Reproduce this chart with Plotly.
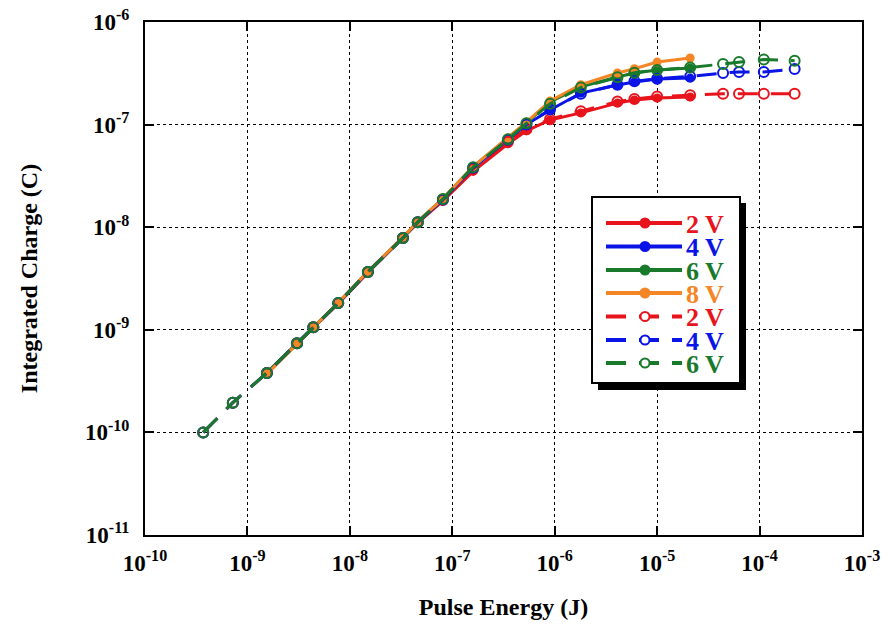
import plotly.graph_objects as go

# Pulse energy (J)
energy_solid = [1.55e-9, 3.05e-9, 4.4e-9, 7.7e-9, 1.5e-8, 3.3e-8, 4.6e-8, 8.1e-8,
                1.6e-7, 3.5e-7, 5.3e-7, 9.0e-7, 1.8e-6, 4.1e-6, 6.0e-6, 1.0e-5, 2.1e-5]
energy_dashed = [3.7e-10, 7.2e-10] + energy_solid + [4.4e-5, 6.3e-5, 1.1e-4, 2.2e-4]

# Integrated charge (C), solid series
q2_solid = [3.8e-10, 7.3e-10, 1.05e-9, 1.8e-9, 3.6e-9, 7.8e-9, 1.1e-8, 1.8e-8, 3.5e-8,
            6.5e-8, 8.7e-8, 1.11e-7, 1.3e-7, 1.62e-7, 1.74e-7, 1.82e-7, 1.86e-7]
q4_solid = [3.8e-10, 7.4e-10, 1.06e-9, 1.82e-9, 3.66e-9, 7.9e-9, 1.12e-8, 1.85e-8, 3.8e-8,
            7.1e-8, 1.0e-7, 1.39e-7, 2.03e-7, 2.43e-7, 2.6e-7, 2.78e-7, 2.84e-7]
q6_solid = [3.8e-10, 7.4e-10, 1.07e-9, 1.83e-9, 3.7e-9, 7.9e-9, 1.13e-8, 1.9e-8, 3.9e-8,
            7.3e-8, 1.04e-7, 1.66e-7, 2.33e-7, 2.91e-7, 3.18e-7, 3.4e-7, 3.56e-7]
q8_solid = [3.7e-10, 7.3e-10, 1.06e-9, 1.84e-9, 3.7e-9, 8.0e-9, 1.14e-8, 1.9e-8, 3.9e-8,
            7.4e-8, 1.06e-7, 1.7e-7, 2.45e-7, 3.18e-7, 3.5e-7, 4.07e-7, 4.46e-7]

# Integrated charge (C), dashed series
q2_dashed = [1.0e-10, 1.95e-10, 3.8e-10, 7.4e-10, 1.06e-9, 1.82e-9, 3.66e-9, 7.85e-9, 1.12e-8,
             1.84e-8, 3.7e-8, 6.8e-8, 9.0e-8, 1.13e-7, 1.35e-7, 1.68e-7, 1.78e-7, 1.88e-7,
             1.93e-7, 2.0e-7, 2.0e-7, 2.0e-7, 2.0e-7]
q4_dashed = [1.0e-10, 1.95e-10, 3.8e-10, 7.4e-10, 1.06e-9, 1.82e-9, 3.66e-9, 7.85e-9, 1.12e-8,
             1.86e-8, 3.8e-8, 7.1e-8, 1.0e-7, 1.4e-7, 2.0e-7, 2.45e-7, 2.65e-7, 2.8e-7,
             2.95e-7, 3.18e-7, 3.26e-7, 3.26e-7, 3.48e-7]
q6_dashed = [1.0e-10, 1.95e-10, 3.8e-10, 7.4e-10, 1.06e-9, 1.82e-9, 3.66e-9, 7.85e-9, 1.12e-8,
             1.88e-8, 3.85e-8, 7.2e-8, 1.03e-7, 1.6e-7, 2.3e-7, 2.9e-7, 3.2e-7, 3.4e-7,
             3.6e-7, 3.9e-7, 4.07e-7, 4.3e-7, 4.2e-7]

series_labels = ["2 V", "4 V", "6 V", "8 V", "2 V", "4 V", "6 V"]

x_tickvals = [1e-10, 1e-9, 1e-8, 1e-7, 1e-6, 1e-5, 1e-4, 1e-3]
x_ticktext = ["10<sup>-10</sup>", "10<sup>-9</sup>", "10<sup>-8</sup>", "10<sup>-7</sup>",
              "10<sup>-6</sup>", "10<sup>-5</sup>", "10<sup>-4</sup>", "10<sup>-3</sup>"]
y_tickvals = [1e-11, 1e-10, 1e-9, 1e-8, 1e-7, 1e-6]
y_ticktext = ["10<sup>-11</sup>", "10<sup>-10</sup>", "10<sup>-9</sup>", "10<sup>-8</sup>",
              "10<sup>-7</sup>", "10<sup>-6</sup>"]

RED = "#e8141c"
BLUE = "#0a14e6"
GREEN = "#187a2a"
ORANGE = "#f58626"

W, H = 884, 624
ML, MR, MT, MB = 145, 22, 22, 89
PW, PH = W - ML - MR, H - MT - MB


def px(xw):
    """window pixel x -> paper coordinate"""
    return (xw - ML) / PW


def py(yw):
    """window pixel y -> paper coordinate"""
    return (H - MB - yw) / PH


fig = go.Figure()

solid = [(q2_solid, RED), (q4_solid, BLUE), (q6_solid, GREEN), (q8_solid, ORANGE)]
dashed = [(q2_dashed, RED), (q4_dashed, BLUE), (q6_dashed, GREEN)]
DASH = "20px,13px"

for (q, c), name in zip(solid, series_labels[:4]):
    fig.add_trace(go.Scatter(
        x=energy_solid, y=q, mode="lines+markers", name=name, showlegend=False,
        line=dict(color=c, width=3),
        marker=dict(symbol="circle", size=9, color=c),
    ))
for (q, c), name in zip(dashed, series_labels[4:]):
    fig.add_trace(go.Scatter(
        x=energy_dashed, y=q, mode="lines+markers", name=name, showlegend=False,
        line=dict(color=c, width=3, dash=DASH),
        marker=dict(symbol="circle-open", size=10, color=c, line=dict(width=2, color=c)),
    ))

# Legend box with drop shadow, drawn as shapes/annotations
shapes = []
annotations = []
bx0, by0, bx1, by1 = 592, 197, 740, 383
shapes.append(dict(type="rect", xref="paper", yref="paper",
                   x0=px(bx0 + 6), x1=px(bx1 + 6), y0=py(by1 + 7), y1=py(by0 + 6),
                   fillcolor="black", line=dict(width=0), layer="above"))
shapes.append(dict(type="rect", xref="paper", yref="paper",
                   x0=px(bx0), x1=px(bx1), y0=py(by1), y1=py(by0),
                   fillcolor="white", line=dict(color="black", width=2), layer="above"))

row_y = [223, 246.5, 270, 293, 316.5, 340, 363]
colors = [RED, BLUE, GREEN, ORANGE, RED, BLUE, GREEN]
for i, (lab, c, yy) in enumerate(zip(series_labels, colors, row_y)):
    is_dashed = i >= 4
    shapes.append(dict(type="line", xref="paper", yref="paper",
                       x0=px(606), x1=px(682), y0=py(yy), y1=py(yy),
                       line=dict(color=c, width=4, dash=DASH if is_dashed else "solid"),
                       layer="above"))
    r = 4.5
    shapes.append(dict(type="circle", xref="paper", yref="paper",
                       x0=px(645 - r), x1=px(645 + r), y0=py(yy + r), y1=py(yy - r),
                       fillcolor="white" if is_dashed else c,
                       line=dict(color=c, width=2), layer="above"))
    annotations.append(dict(xref="paper", yref="paper", x=px(685), y=py(yy + 1),
                            xanchor="left", yanchor="middle", showarrow=False,
                            text=f"<b>{lab}</b>", borderpad=0,
                            font=dict(family="Liberation Serif", size=26, color=c)))

axis_font = dict(family="Liberation Serif", size=24, color="black")
tick_font = dict(family="Liberation Serif", size=23, color="black", weight="bold")

fig.update_layout(
    width=W, height=H,
    margin=dict(l=ML, r=MR, t=MT, b=MB),
    paper_bgcolor="white", plot_bgcolor="white",
    font=dict(family="Liberation Serif", color="black"),
    showlegend=False,
    shapes=shapes,
    annotations=annotations,
    xaxis=dict(
        type="log", range=[-10, -3], automargin=False,
        tickvals=x_tickvals, ticktext=x_ticktext, tickfont=tick_font,
        ticks="inside", ticklen=9, tickwidth=1.5, tickcolor="black",
        showline=True, linecolor="black", linewidth=2, mirror="ticks",
        showgrid=True, gridcolor="black", gridwidth=1, griddash="dot",
        zeroline=False, ticklabelstandoff=6, ticklabeloverflow="allow",
        title=dict(text="<b>Pulse Energy (J)</b>", font=axis_font, standoff=24),
    ),
    yaxis=dict(
        type="log", range=[-11, -6], automargin=False,
        tickvals=y_tickvals, ticktext=y_ticktext, tickfont=tick_font,
        ticks="inside", ticklen=9, tickwidth=1.5, tickcolor="black",
        showline=True, linecolor="black", linewidth=2, mirror="ticks",
        showgrid=True, gridcolor="black", gridwidth=1, griddash="dot",
        zeroline=False, ticklabelstandoff=9, ticklabeloverflow="allow",
        title=dict(text="<b>Integrated Charge (C)</b>", font=axis_font, standoff=41),
    ),
)

# remove the default 8px page margin so the figure fills the window exactly
fig.write_html("out.html", config={"displayModeBar": False},
               post_script="document.body.style.margin='0';")
